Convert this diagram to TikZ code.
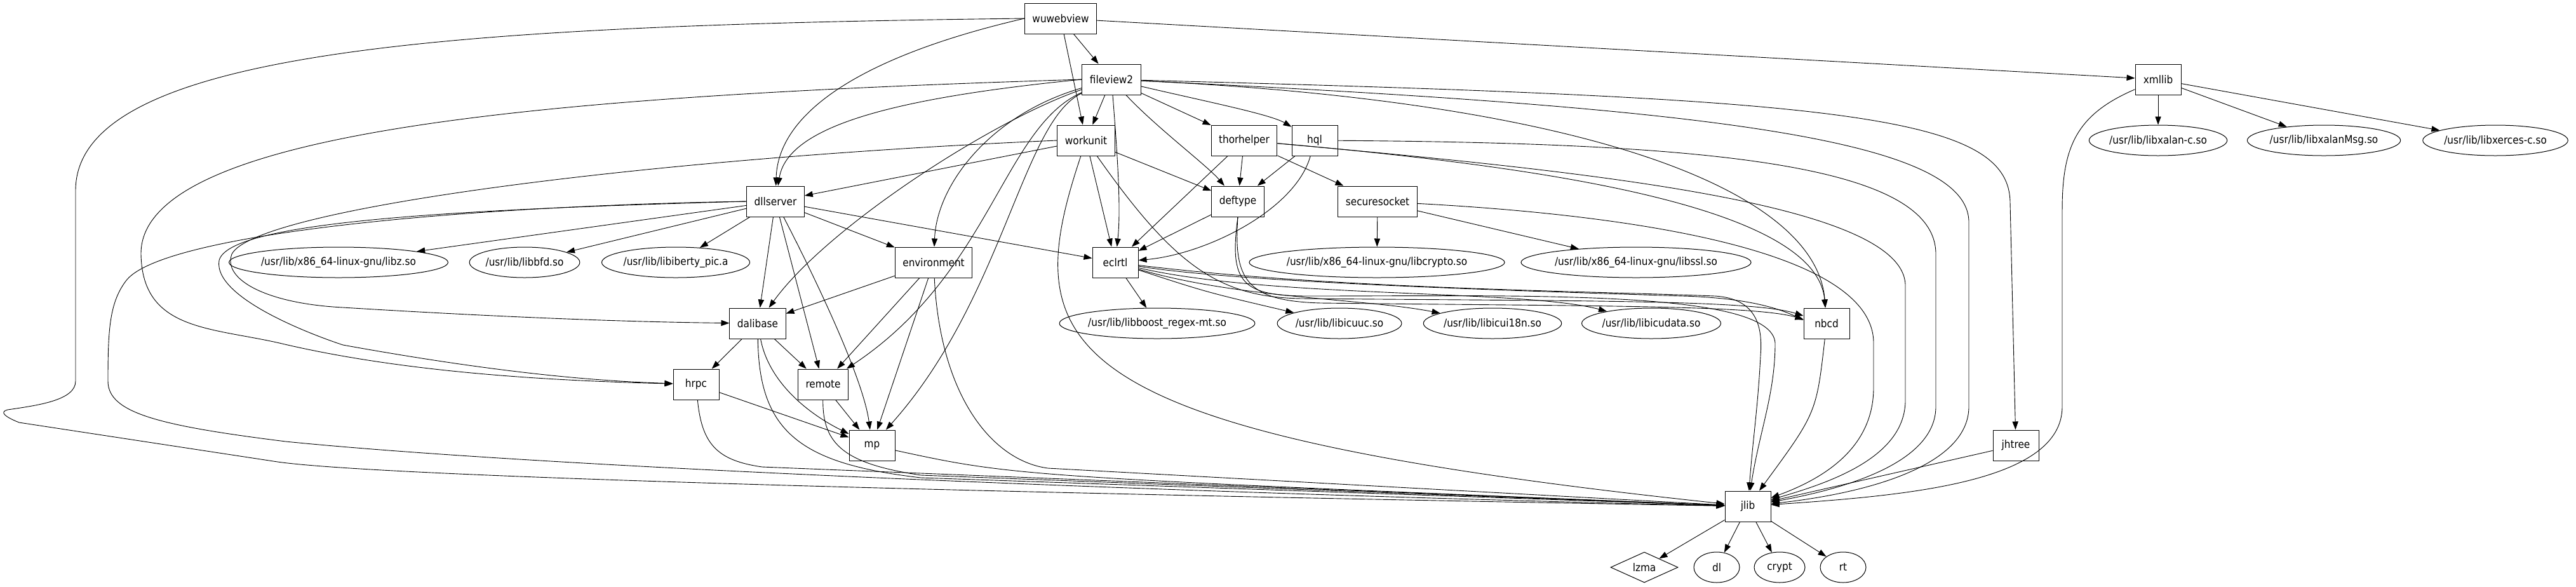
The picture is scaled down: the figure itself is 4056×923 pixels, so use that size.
\documentclass[tikz,border=0pt]{standalone}
\usepackage{fontspec}
\setmainfont{DejaVu Sans Condensed}
\usetikzlibrary{arrows.meta,shapes.geometric}

\begin{document}
\begin{tikzpicture}[x=0.5pt,y=-0.5pt,
  every node/.style={font=\fontsize{8.5}{10}\selectfont},
  box/.style={draw,line width=0.5pt,rectangle,minimum width=36pt,minimum height=24pt,inner xsep=6pt,inner ysep=0pt},
  lib/.style={draw,line width=0.5pt,ellipse,minimum width=36pt,minimum height=24pt,inner sep=0pt},
  dep/.style={line width=0.45pt,-{Triangle[length=6.5pt,width=4.6pt]}}]
  \useasboundingbox (0,0) rectangle (4056,923);
  % modules
  \node[box] (wuwebview) at (1670,29) {wuwebview};
  \node[box] (fileview2) at (1750,125) {fileview2};
  \node[box] (xmllib) at (3398,125) {xmllib};
  \node[box] (workunit) at (1710,221) {workunit};
  \node[box] (thorhelper) at (1959,221) {thorhelper};
  \node[box] (hql) at (2070,221) {hql};
  \node[box] (dllserver) at (1221,317) {dllserver};
  \node[box] (deftype) at (1949,317) {deftype};
  \node[box] (securesocket) at (2169,317) {securesocket};
  \node[box] (environment) at (1470,413) {environment};
  \node[box] (eclrtl) at (1756,413) {eclrtl};
  \node[box] (dalibase) at (1193,509) {dalibase};
  \node[box] (nbcd) at (2876,509) {nbcd};
  \node[box] (hrpc) at (1096,605) {hrpc};
  \node[box] (remote) at (1296,605) {remote};
  \node[box] (mp) at (1373,701) {mp};
  \node[box] (jhtree) at (3174,701) {jhtree};
  \node[box] (jlib) at (2752,797) {jlib};
  % system libraries
  \node[lib] (xalanc) at (3398,221) {/usr/lib/libxalan-c.so};
  \node[lib] (xalanmsg) at (3659,221) {/usr/lib/libxalanMsg.so};
  \node[lib] (xercesc) at (3929,221) {/usr/lib/libxerces-c.so};
  \node[lib] (libz) at (533,413) {/usr/lib/x86\_64-linux-gnu/libz.so};
  \node[lib] (libbfd) at (826,413) {/usr/lib/libbfd.so};
  \node[lib] (libiberty) at (1064,413) {/usr/lib/libiberty\_pic.a};
  \node[lib] (libcrypto) at (2168,413) {/usr/lib/x86\_64-linux-gnu/libcrypto.so};
  \node[lib] (libssl) at (2576,413) {/usr/lib/x86\_64-linux-gnu/libssl.so};
  \node[lib] (boostregex) at (1822,509) {/usr/lib/libboost\_regex-mt.so};
  \node[lib] (icuuc) at (2109,509) {/usr/lib/libicuuc.so};
  \node[lib] (icui18n) at (2350,509) {/usr/lib/libicui18n.so};
  \node[lib] (icudata) at (2600,509) {/usr/lib/libicudata.so};
  \node[draw,line width=0.5pt,diamond,aspect=2.2,minimum width=53pt,minimum height=24pt,inner sep=0pt] (lzma) at (2589,893) {lzma};
  \node[lib] (dl) at (2703,893) {dl};
  \node[lib,minimum width=40pt] (crypt) at (2802,893) {crypt};
  \node[lib] (rt) at (2902,893) {rt};

  % wuwebview
  \draw[dep] (wuwebview) -- (fileview2);
  \draw[dep] (wuwebview) -- (workunit);
  \draw[dep] (wuwebview) -- (xmllib);
  \draw[dep] (wuwebview.west) .. controls (1350,90) and (1225,180) .. (dllserver);
  \draw[dep] (wuwebview.west) .. controls (700,40) and (119,80) .. (119,300) -- (119,600)
    .. controls (119,630) and (60,638) .. (12,645) .. controls (0,648) and (5,655) .. (30,665)
    -- (437,727) .. controls (600,750) and (1500,775) .. (jlib);
  % fileview2
  \draw[dep] (fileview2) -- (workunit);
  \draw[dep] (fileview2) -- (thorhelper);
  \draw[dep] (fileview2) .. controls (1900,160) and (2000,180) .. (hql);
  \draw[dep] (fileview2) .. controls (1820,200) and (1900,260) .. (deftype);
  \draw[dep] (fileview2) .. controls (1760,250) and (1765,330) .. (eclrtl);
  \draw[dep] (fileview2.west) .. controls (1400,155) and (1240,200) .. (dllserver);
  \draw[dep] (fileview2) .. controls (1560,190) and (1300,360) .. (dalibase);
  \draw[dep] (fileview2) .. controls (1560,180) and (1475,290) .. (environment);
  \draw[dep] (fileview2) .. controls (1580,200) and (1560,430) .. (remote);
  \draw[dep] (fileview2) .. controls (1610,190) and (1580,470) .. (mp);
  \draw[dep] (fileview2.west) .. controls (900,150) and (220,200) .. (222,400)
    .. controls (224,520) and (330,515) .. (440,540) .. controls (650,590) and (900,600) .. (hrpc);
  \draw[dep] (fileview2) .. controls (2500,160) and (2860,300) .. (nbcd);
  \draw[dep] (fileview2) .. controls (2700,170) and (3100,220) .. (3100,350) -- (3100,640)
    .. controls (3100,730) and (2950,775) .. (jlib);
  \draw[dep] (fileview2) .. controls (2900,155) and (3165,180) .. (3165,320) -- (jhtree);
  % workunit
  \draw[dep] (workunit) -- (dllserver);
  \draw[dep] (workunit) -- (deftype);
  \draw[dep] (workunit) -- (eclrtl);
  \draw[dep] (workunit.west) .. controls (1000,250) and (400,330) .. (365,400)
    .. controls (350,440) and (420,478) .. (540,484) .. controls (800,500) and (1000,507) .. (dalibase);
  \draw[dep] (workunit) .. controls (1600,550) and (1650,680) .. (jlib);
  \draw[dep] (workunit) .. controls (1850,420) and (1920,468) .. (2050,470)
    .. controls (2500,474) and (2760,472) .. (nbcd.162);
  % thorhelper, hql
  \draw[dep] (thorhelper) -- (deftype);
  \draw[dep] (thorhelper) -- (eclrtl);
  \draw[dep] (thorhelper) -- (securesocket);
  \draw[dep] (thorhelper) .. controls (2400,260) and (2860,320) .. (nbcd);
  \draw[dep] (thorhelper) .. controls (2500,270) and (3000,320) .. (3000,450) -- (3000,630)
    .. controls (3000,720) and (2880,760) .. (jlib);
  \draw[dep] (hql) -- (deftype);
  \draw[dep] (hql) .. controls (2040,330) and (1900,400) .. (eclrtl);
  \draw[dep] (hql) .. controls (2700,225) and (3048,260) .. (3048,400) -- (3048,640)
    .. controls (3048,730) and (2900,770) .. (jlib);
  % deftype, securesocket, eclrtl
  \draw[dep] (deftype) -- (eclrtl);
  \draw[dep] (deftype.south) .. controls (1942,440) and (1962,474) .. (2080,477)
    .. controls (2500,482) and (2760,480) .. (nbcd.170);
  \draw[dep] (deftype.south) .. controls (1935,445) and (1955,466) .. (2060,466)
    .. controls (2400,466) and (2790,455) .. (2795,540) .. controls (2795,620) and (2770,680) .. (jlib);
  \draw[dep] (securesocket) -- (libcrypto);
  \draw[dep] (securesocket) -- (libssl);
  \draw[dep] (securesocket) .. controls (2600,340) and (2950,400) .. (2950,540) -- (2950,610)
    .. controls (2950,700) and (2880,750) .. (jlib);
  \draw[dep] (eclrtl) -- (boostregex);
  \draw[dep] (eclrtl) .. controls (1900,460) .. (icuuc);
  \draw[dep] (eclrtl) .. controls (1950,470) and (2150,470) .. (icui18n);
  \draw[dep] (eclrtl) .. controls (2000,470) and (2400,455) .. (icudata);
  \draw[dep] (eclrtl) .. controls (1950,445) and (2400,458) .. (2650,466)
    .. controls (2750,469) and (2800,485) .. (nbcd.172);
  \draw[dep] (eclrtl) .. controls (2100,455) and (2500,458) .. (2700,466)
    .. controls (2770,470) and (2775,520) .. (2772,560) .. controls (2768,640) and (2760,690) .. (jlib);
  % dllserver
  \draw[dep] (dllserver) -- (libz);
  \draw[dep] (dllserver) -- (libbfd);
  \draw[dep] (dllserver) -- (libiberty);
  \draw[dep] (dllserver) -- (environment);
  \draw[dep] (dllserver) -- (eclrtl);
  \draw[dep] (dllserver) -- (dalibase);
  \draw[dep] (dllserver) -- (remote);
  \draw[dep] (dllserver) .. controls (1290,450) and (1360,600) .. (mp);
  \draw[dep] (dllserver.west) .. controls (700,330) and (360,350) .. (345,410)
    .. controls (335,470) and (500,530) .. (540,543) .. controls (800,590) and (950,600) .. (hrpc);
  \draw[dep] (dllserver.west) .. controls (700,325) and (260,370) .. (200,440)
    .. controls (172,475) and (170,520) .. (170,600) .. controls (170,650) and (250,670) .. (450,695)
    .. controls (900,740) and (2000,780) .. (jlib);
  % environment, dalibase, hrpc, remote, mp
  \draw[dep] (environment) -- (dalibase);
  \draw[dep] (environment) -- (remote);
  \draw[dep] (environment) -- (mp);
  \draw[dep] (environment) .. controls (1480,620) and (1560,725) .. (1650,737) -- (jlib);
  \draw[dep] (dalibase) -- (hrpc);
  \draw[dep] (dalibase) -- (remote);
  \draw[dep] (dalibase) .. controls (1210,600) and (1270,650) .. (mp);
  \draw[dep] (dalibase) .. controls (1195,680) and (1260,730) .. (1450,752) -- (jlib);
  \draw[dep] (hrpc) -- (mp);
  \draw[dep] (hrpc) .. controls (1105,700) and (1130,725) .. (1200,735) -- (jlib);
  \draw[dep] (remote) -- (mp);
  \draw[dep] (remote) .. controls (1295,700) and (1330,730) .. (1450,748) -- (jlib);
  \draw[dep] (mp) .. controls (1600,750) .. (jlib);
  % right side
  \draw[dep] (nbcd) .. controls (2860,650) .. (jlib);
  \draw[dep] (jhtree) -- (jlib);
  \draw[dep] (xmllib) -- (xalanc);
  \draw[dep] (xmllib) -- (xalanmsg);
  \draw[dep] (xmllib) -- (xercesc);
  \draw[dep] (xmllib) .. controls (3270,180) and (3247,230) .. (3247,330) -- (3247,640)
    .. controls (3247,760) and (3000,780) .. (jlib);
  % jlib
  \draw[dep] (jlib) -- (lzma);
  \draw[dep] (jlib) -- (dl);
  \draw[dep] (jlib) -- (crypt);
  \draw[dep] (jlib) -- (rt);
\end{tikzpicture}
\end{document}
